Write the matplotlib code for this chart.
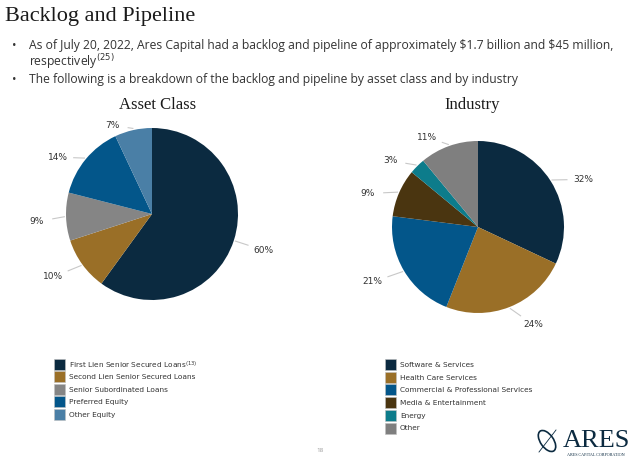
import numpy as np
import matplotlib
matplotlib.use("Agg")
import matplotlib.pyplot as plt
from matplotlib.patches import Rectangle, Ellipse

W, H = 640, 463

# asset class breakdown
asset_labels = [r"First Lien Senior Secured Loans$^{(13)}$", "Second Lien Senior Secured Loans",
                "Senior Subordinated Loans", "Preferred Equity", "Other Equity"]
asset_pct = [60, 10, 9, 14, 7]
asset_colors = ["#0b2a40", "#9a6f27", "#858585", "#03568a", "#4a7fa6"]

# industry breakdown
ind_labels = ["Software & Services", "Health Care Services", "Commercial & Professional Services",
              "Media & Entertainment", "Energy", "Other"]
ind_pct = [32, 24, 21, 9, 3, 11]
ind_colors = ["#0b2a40", "#9a6f27", "#03568a", "#4a3510", "#0d7c8b", "#7f7f7f"]

# label placement: (angle nudge in degrees, distance in radii)
asset_lab_pos = [(0, 1.36), (-3.5, 1.36), (2, 1.34), (8.5, 1.28), (11.5, 1.13)]
ind_lab_pos = [(-8, 1.34), (8, 1.31), (-3, 1.38), (6.5, 1.34), (8, 1.28), (9.7, 1.2)]

serif = ["Liberation Serif", "DejaVu Serif"]
sans = ["Open Sans", "DejaVu Sans"]
label_font = ["DejaVu Sans"]

fig = plt.figure(figsize=(W / 100, H / 100), dpi=100)
fig.patch.set_facecolor("white")

# full page axes in pixel coordinates for the texts
page = fig.add_axes([0, 0, 1, 1])
page.set_xlim(0, W)
page.set_ylim(H, 0)
page.axis("off")


def draw_pie(cx, cy, r, values, colors, lab_pos):
    span = 170.0
    ax = fig.add_axes([(cx - span) / W, 1 - (cy + span) / H, 2 * span / W, 2 * span / H])
    wedges, _ = ax.pie(values, colors=colors, startangle=90, counterclock=False,
                       radius=1.0, wedgeprops=dict(linewidth=0))
    lim = span / r
    ax.set_xlim(-lim, lim)
    ax.set_ylim(-lim, lim)
    ax.set_aspect("equal")
    ax.axis("off")
    gap = 16.0 / r
    for w, v, (nudge, dist) in zip(wedges, values, lab_pos):
        mid = np.deg2rad((w.theta1 + w.theta2) / 2.0)
        p0 = 1.02 * np.array([np.cos(mid), np.sin(mid)])
        lab_ang = mid + np.deg2rad(nudge)
        lab = dist * np.array([np.cos(lab_ang), np.sin(lab_ang)])
        d = lab - p0
        p1 = lab - gap * d / np.hypot(*d)
        ax.plot([p0[0], p1[0]], [p0[1], p1[1]], color="#c8c8c8", lw=0.8)
        ax.text(lab[0], lab[1], "%d%%" % v, ha="center", va="center",
                fontsize=6.5, family=label_font, color="#333333")
    return ax


draw_pie(152, 214, 86, asset_pct, asset_colors, asset_lab_pos)
draw_pie(478, 227, 86, ind_pct, ind_colors, ind_lab_pos)

# header texts
page.text(5, 17, "Backlog and Pipeline", fontsize=16, family=serif, color="#1a1a1a",
          ha="left", va="center")
page.text(12, 45, u"\u2022", fontsize=8.7, family=sans, color="#333333", ha="left", va="center")
page.text(29, 45, "As of July 20, 2022, Ares Capital had a backlog and pipeline of approximately "
          "$1.7 billion and $45 million,".replace("$", r"\$"),
          fontsize=8.7, family=sans, color="#333333", ha="left", va="center")
page.text(29, 62, r"respectively$^{(25)}$", fontsize=8.7, family=sans, color="#333333",
          ha="left", va="center")
page.text(12, 79, u"\u2022", fontsize=8.7, family=sans, color="#333333", ha="left", va="center")
page.text(29, 79, "The following is a breakdown of the backlog and pipeline by asset class and by industry",
          fontsize=8.7, family=sans, color="#333333", ha="left", va="center")

page.text(158, 105, "Asset Class", fontsize=12, family=serif, color="#1a1a1a",
          ha="center", va="center")
page.text(472, 105, "Industry", fontsize=12, family=serif, color="#1a1a1a",
          ha="center", va="center")

# legends
def draw_legend(x, y0, step, labels, colors):
    for i, (lab, col) in enumerate(zip(labels, colors)):
        y = y0 + i * step
        page.add_patch(Rectangle((x, y - 6), 11, 11, facecolor=col, edgecolor="#c0c0c0", lw=0.4))
        page.text(x + 15, y, lab, fontsize=5.3, family=label_font, color="#333333",
                  ha="left", va="center")


draw_legend(54, 365, 12.4, asset_labels, asset_colors)
draw_legend(385, 365, 12.7, ind_labels, ind_colors)

# page number and logo
page.text(320, 450, "18", fontsize=4.5, family=sans, color="#999999", ha="center", va="center")
page.add_patch(Ellipse((547, 441), 13, 24, angle=-35, fill=False, edgecolor="#0b2a40", lw=1.2))
page.plot([539, 556], [452, 430], color="#0b2a40", lw=0.6)
page.text(596, 441, "ARES", fontsize=19, family=serif, color="#0b2a40", ha="center", va="center")
page.text(596, 455, "ARES CAPITAL CORPORATION", fontsize=3, family=serif, color="#0b2a40",
          ha="center", va="center")

fig.savefig("out.png", dpi=100)
